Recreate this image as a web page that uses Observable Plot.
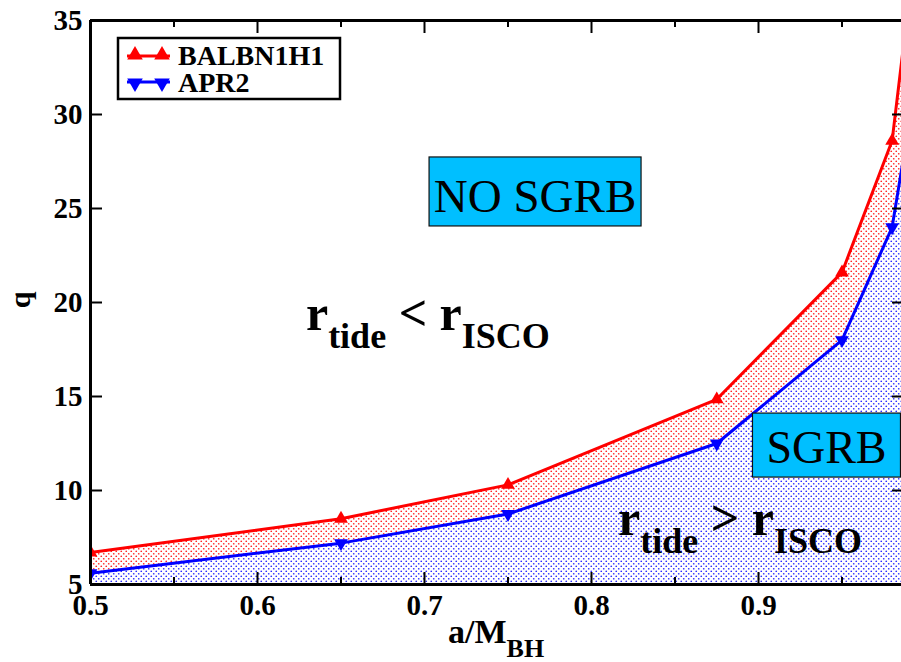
<!DOCTYPE html>
<html><head><meta charset="utf-8">
<script src="https://cdn.jsdelivr.net/npm/d3@7"></script>
<script src="https://cdn.jsdelivr.net/npm/@observablehq/plot@0.6"></script>
<style>
html,body{margin:0;padding:0;background:#fff;overflow:hidden;}
svg text{font-family:"Liberation Serif","Tinos","DejaVu Serif","Times New Roman",serif !important;}
</style>
</head><body><div id="chart"></div>
<script>
// ---- data ----
const spin = [0.5, 0.65, 0.75, 0.875, 0.95, 0.98, 0.99];
const qBALBN1H1 = [6.7, 8.5, 10.3, 14.85, 21.6, 28.6, 36.0];
const qAPR2 = [5.6, 7.2, 8.75, 12.5, 18.0, 24.0, 29.4];
const xTicks = [0.5, 0.6, 0.7, 0.8, 0.9];
const xMinorTicks = [0.55, 0.65, 0.75, 0.85, 0.95];
const yTicks = [5, 10, 15, 20, 25, 30, 35];
const seriesNames = ["BALBN1H1", "APR2"];
const seriesColors = ["#ff0000", "#0000ff"];
const regionLabels = ["NO SGRB", "SGRB"];

const rows = spin.map((x, i) => ({x, red: qBALBN1H1[i], blue: qAPR2[i]}));

const plot = Plot.plot({
  width: 901, height: 662,
  marginLeft: 90, marginRight: 0, marginTop: 20, marginBottom: 78,
  style: {fontWeight: "bold", color: "black", background: "white"},
  x: {domain: [0.5, 1], range: [90, 925], label: null},
  y: {domain: [5, 35], label: null},
  marks: [
    Plot.areaY(rows, {x: "x", y1: 5, y2: "blue", fill: "url(#blueDots)", clip: true}),
    Plot.areaY(rows, {x: "x", y1: "blue", y2: "red", fill: "url(#redDots)", clip: true}),
    Plot.line(rows, {x: "x", y: "red", stroke: seriesColors[0], strokeWidth: 3, clip: true}),
    Plot.line(rows, {x: "x", y: "blue", stroke: seriesColors[1], strokeWidth: 3, clip: true}),
    Plot.dot(rows, {x: "x", y: "red", symbol: "triangle", fill: seriesColors[0], r: 5.1, clip: true}),
    Plot.dot(rows, {x: "x", y: "blue", symbol: "triangle", rotate: 180, fill: seriesColors[1], r: 5.1, clip: true}),
    Plot.ruleX([0.5], {stroke: "black", strokeWidth: 3}),
    Plot.ruleY([5, 35], {stroke: "black", strokeWidth: 3}),
    Plot.axisY(yTicks, {anchor: "left", tickSize: 0, tickPadding: 8, fontSize: 29, fontWeight: "bold", label: null, tickFormat: d => String(d)}),
    Plot.axisY(yTicks, {anchor: "left", tickSize: -12, strokeWidth: 2, fill: "none", label: null}),
    Plot.axisY(yTicks, {anchor: "right", tickSize: -10, strokeWidth: 2, fill: "none", label: null}),
    Plot.axisX(xTicks, {anchor: "bottom", tickSize: 0, tickPadding: 10, fontSize: 29, fontWeight: "bold", label: null, tickFormat: d => String(d)}),
    Plot.axisX(xTicks, {anchor: "bottom", tickSize: -12, strokeWidth: 2, fill: "none", label: null}),
    Plot.axisX(xMinorTicks, {anchor: "bottom", tickSize: -7, strokeWidth: 2, fill: "none", label: null}),
    Plot.axisX(xTicks, {anchor: "top", tickSize: -12, strokeWidth: 2, fill: "none", label: null}),
    Plot.axisX(xMinorTicks, {anchor: "top", tickSize: -6, strokeWidth: 2, fill: "none", label: null})
  ]
});
document.getElementById("chart").appendChild(plot);

const svg = d3.select(plot);
const defs = svg.insert("defs", ":first-child");
function pattern(id, color) {
  const p = defs.append("pattern").attr("id", id).attr("patternUnits", "userSpaceOnUse")
    .attr("width", 5).attr("height", 5);
  p.append("circle").attr("cx", 1.25).attr("cy", 1.25).attr("r", 0.85).attr("fill", color);
  p.append("circle").attr("cx", 3.75).attr("cy", 3.75).attr("r", 0.85).attr("fill", color);
}
pattern("redDots", "#ff2020");
pattern("blueDots", "#2828ff");

const X = plot.scale("x"), Y = plot.scale("y");
const sx = v => X.apply(v), sy = v => Y.apply(v);
const g = svg.append("g").attr("fill", "black").attr("text-anchor", "start");

// region boxes
const boxes = [
  {label: regionLabels[0], cx: 0.7665, cy: 25.88, hw: 106, hh: 34.5, fs: 47, base: 20.5},
  {label: regionLabels[1], cx: 0.941, cy: 12.39, hw: 74, hh: 32, fs: 46, base: 18}
];
boxes.forEach(b => {
  const cx = sx(b.cx), cy = sy(b.cy);
  g.append("rect").attr("x", cx - b.hw).attr("y", cy - b.hh).attr("width", 2 * b.hw).attr("height", 2 * b.hh)
    .attr("fill", "#00bfff").attr("stroke", "#111").attr("stroke-width", 1.2);
  g.append("text").attr("x", cx).attr("y", cy + b.base).attr("text-anchor", "middle")
    .attr("font-size", b.fs).attr("font-weight", "normal").text(b.label);
});

// r_tide vs r_ISCO
function ratioText(x0, q0, op) {
  const t = g.append("text").attr("x", sx(x0)).attr("y", sy(q0)).attr("text-anchor", "start")
    .attr("font-weight", "bold").attr("font-size", 50);
  t.append("tspan").text("r");
  t.append("tspan").attr("font-size", 36).attr("dy", 18).text("tide");
  t.append("tspan").attr("dy", -18).text("\u00a0" + op + "\u00a0r");
  t.append("tspan").attr("font-size", 36).attr("dy", 18).text("ISCO");
}
ratioText(0.6293, 18.51, "<");
ratioText(0.8162, 7.61, ">");

// axis titles
g.append("text").attr("transform", "translate(30,300) rotate(-90)").attr("text-anchor", "middle")
  .attr("font-size", 30).attr("font-weight", "bold").text("q");
const xl = g.append("text").attr("x", 448).attr("y", 643).attr("text-anchor", "start")
  .attr("font-size", 34).attr("font-weight", "bold");
xl.append("tspan").text("a/M");
xl.append("tspan").attr("font-size", 26).attr("dy", 14).text("BH");

// legend
const lg = g.append("g");
lg.append("rect").attr("x", 118).attr("y", 38).attr("width", 222).attr("height", 61)
  .attr("fill", "white").attr("stroke", "black").attr("stroke-width", 2.5);
const tri = d3.symbol(d3.symbolTriangle, 105)();
seriesNames.forEach((name, i) => {
  const yy = 56 + i * 26;
  lg.append("line").attr("x1", 127).attr("x2", 170).attr("y1", yy).attr("y2", yy)
    .attr("stroke", seriesColors[i]).attr("stroke-width", 3);
  [135, 162].forEach(xx => {
    lg.append("path").attr("d", tri).attr("fill", seriesColors[i])
      .attr("transform", `translate(${xx},${yy + (i ? 1 : -1)}) rotate(${i ? 180 : 0})`);
  });
  lg.append("text").attr("x", 178).attr("y", 65 + i * 27).attr("text-anchor", "start")
    .attr("font-size", 28).attr("font-weight", "bold").text(name);
});
</script>
</body></html>
